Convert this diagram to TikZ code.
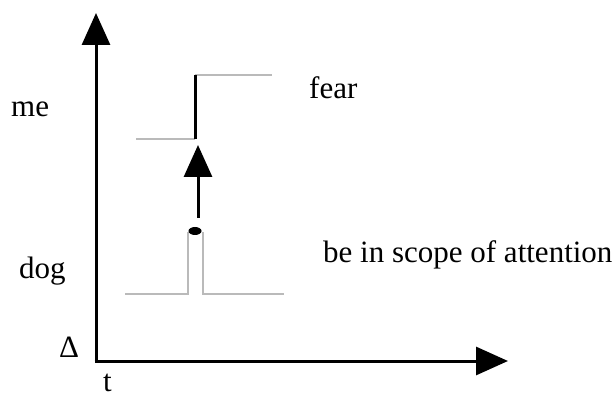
\documentclass[tikz,border=0pt]{standalone}
\usepackage{fontspec}
\setmainfont{Liberation Serif}
\usetikzlibrary{arrows.meta,shapes.geometric}
\begin{document}
\begin{tikzpicture}[x=1pt,y=-1pt,
  lbl/.style={anchor=base west,inner sep=0pt,font=\fontsize{31}{36}\selectfont},
  axis/.style={line width=3pt,-{Triangle[length=32pt,width=28pt]}},
  level/.style={draw=black!27,line width=2.8pt},
  jump/.style={draw=black,line width=3pt},
  cause/.style={line width=3pt,-{Triangle[length=32pt,width=28pt]}}]
\useasboundingbox (0,0) rectangle (616,398);
% axes
\coordinate (origin) at (96,361);
\coordinate (ytip) at (96,13);
\coordinate (xtip) at (508,361);
\draw[axis] ([yshift=1.5pt]origin) -- (ytip);
\draw[axis] ([xshift=-1.5pt]origin) -- (xtip);
% upper state: step from low to high
\coordinate (ua) at (136,139);
\coordinate (ub) at (195,139);
\coordinate (uc) at (195,75);
\coordinate (ud) at (272,75);
\draw[level] (ua) -- (ub);
\draw[level] (uc) -- (ud);
\draw[jump] (ub) -- (uc);
% lower state: short pulse
\coordinate (la) at (125,294);
\coordinate (lb) at (188,294);
\coordinate (lc) at (188,232);
\coordinate (ld) at (203,232);
\coordinate (le) at (203,294);
\coordinate (lf) at (284,294);
\draw[level] (la) -- (lb) -- (lc);
\draw[level] (ld) -- (le) -- (lf);
\node[ellipse,fill=black,minimum width=13pt,minimum height=8pt,inner sep=0pt] (dot) at (195,231) {};
% causal arrow
\coordinate (cs) at (198,218);
\coordinate (ct) at (198,145);
\draw[cause] (cs) -- (ct);
% labels
\node[lbl] (me) at (11,117) {me};
\node[lbl] (fear) at (309,99) {fear};
\node[lbl] (dog) at (19,279) {dog};
\node[lbl] (att) at (323,263) {be in scope of attention};
\node[lbl] (delta) at (59,357) {Δ};
\node[lbl] (t) at (103,391) {t};
\end{tikzpicture}
\end{document}
